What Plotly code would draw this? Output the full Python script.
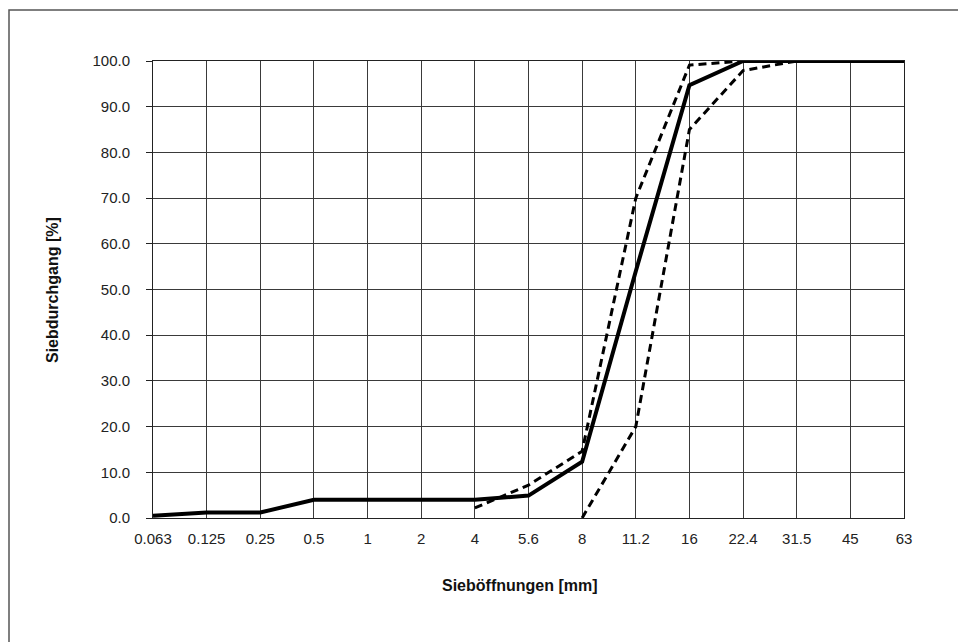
import plotly.graph_objects as go

sieves = ["0.063", "0.125", "0.25", "0.5", "1", "2", "4", "5.6", "8", "11.2", "16", "22.4", "31.5", "45", "63"]
passing = [0.5, 1.2, 1.2, 4.0, 4.0, 4.0, 4.0, 4.9, 12.3, 54.0, 94.7, 100.0, 100.0, 100.0, 100.0]
upper = [None, None, None, None, None, None, 2.2, 7.2, 14.6, 70.0, 99.1, 100.0, 100.0, 100.0, 100.0]
lower = [None, None, None, None, None, None, None, None, 0.0, 20.0, 85.0, 97.9, 100.0, 100.0, 100.0]

W, H = 958, 642
L, R, T, B = 153, 904, 61, 518
pw, ph = R - L, B - T

fig = go.Figure()
fig.add_trace(go.Scatter(x=sieves, y=upper, mode="lines", line=dict(color="black", width=3, dash="8px,5px"), connectgaps=False, showlegend=False))
fig.add_trace(go.Scatter(x=sieves, y=lower, mode="lines", line=dict(color="black", width=3, dash="8px,5px"), connectgaps=False, showlegend=False))
fig.add_trace(go.Scatter(x=sieves, y=passing, mode="lines", line=dict(color="black", width=4), showlegend=False))

font = "Liberation Sans, Arial, sans-serif"

def px(xp):
    return (xp - L) / pw

def py(yp):
    return (B - yp) / ph

fig.update_layout(
    width=W, height=H,
    margin=dict(l=L, r=W - R, t=T, b=H - B, pad=0),
    paper_bgcolor="white", plot_bgcolor="white",
    font=dict(family=font, size=15, color="#222"),
    xaxis=dict(type="category", range=[0, len(sieves) - 1], showgrid=True, gridcolor="#3a3a3a", gridwidth=1,
               showline=True, linecolor="#222", linewidth=1, mirror=True, ticks="", zeroline=False,
               tickfont=dict(size=15, family=font, color="#222"), ticklabelstandoff=7),
    yaxis=dict(range=[0, 100], dtick=10, tickformat=".1f", showgrid=True, gridcolor="#3a3a3a", gridwidth=1,
               showline=True, linecolor="#222", linewidth=1, mirror=True, ticks="outside", ticklen=6,
               tickcolor="#222", zeroline=False, tickfont=dict(size=15, family=font, color="#222"), ticklabelstandoff=13),
    shapes=[dict(type="rect", xref="paper", yref="paper", x0=px(9), x1=px(965), y0=py(650), y1=py(10),
                 line=dict(color="#555", width=1.5), fillcolor="rgba(0,0,0,0)", layer="below")],
    annotations=[
        dict(text="<b>Sieböffnungen [mm]</b>", xref="paper", yref="paper", x=px(520), y=py(585),
             showarrow=False, font=dict(size=16, family=font, color="#111"), xanchor="center", yanchor="middle"),
        dict(text="<b>Siebdurchgang [%]</b>", xref="paper", yref="paper", x=px(52), y=py(290),
             showarrow=False, textangle=-90, font=dict(size=16, family=font, color="#111"), xanchor="center", yanchor="middle"),
    ],
)

fig.write_html("out.html")
